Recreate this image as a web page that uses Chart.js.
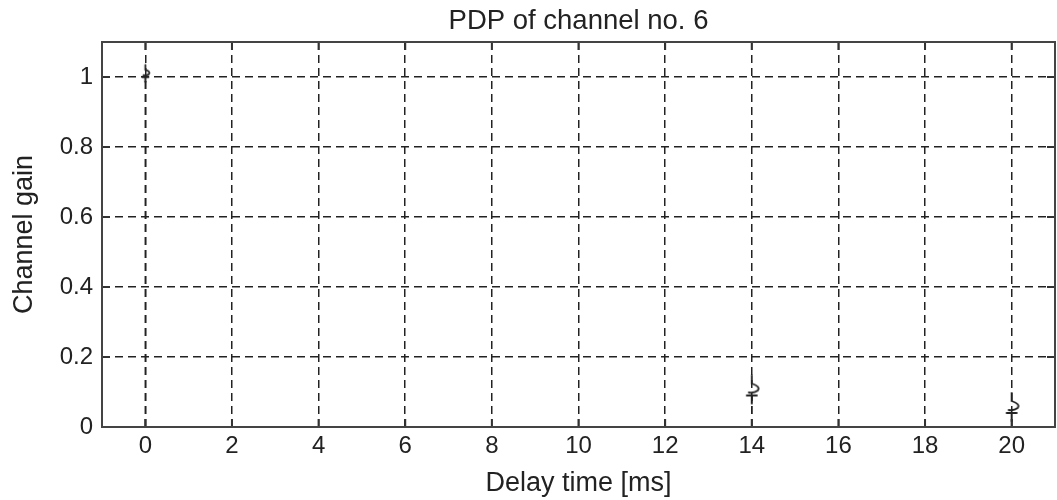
<!DOCTYPE html>
<html>
<head>
<meta charset="utf-8">
<script src="https://cdn.jsdelivr.net/npm/chart.js@4"></script>
<style>
  html, body { margin: 0; padding: 0; background: #fff; }
  #wrap { width: 1057px; height: 500px; }
</style>
</head>
<body>
<div id="wrap"><canvas id="pdp"></canvas></div>
<script>
// PDP taps: delay [ms] and channel gain
const delays = [0, 14, 20];
const gains = [1, 0.09, 0.04];
const markScale = [0.6, 1, 1];

const xTicks = [0, 2, 4, 6, 8, 10, 12, 14, 16, 18, 20];
const yTicks = [0, 0.2, 0.4, 0.6, 0.8, 1];

const FONT = 'Liberation Sans, Arial, Helvetica, sans-serif';
const INK = '#222';

// hand-drawn looking stem marker: squiggle sitting on a short T-bar
function makeMark(s) {
  const w = Math.round(22 * s), h = Math.round(48 * s);
  const c = document.createElement('canvas');
  c.width = w; c.height = h;
  const g = c.getContext('2d');
  const cx = w / 2, cy = h / 2;
  g.strokeStyle = INK;
  g.lineWidth = 1.8;
  g.lineCap = 'round';
  g.beginPath();
  g.moveTo(cx, cy - 20 * s);
  g.lineTo(cx, cy - 12 * s);
  g.quadraticCurveTo(cx + 9 * s, cy - 9 * s, cx + 6 * s, cy - 5 * s);
  g.quadraticCurveTo(cx + 2 * s, cy - 2 * s, cx - 3 * s, cy - 3 * s);
  g.stroke();
  g.lineWidth = 2;
  g.beginPath();
  g.moveTo(cx - 5 * s, cy);
  g.lineTo(cx + 5 * s, cy);
  g.moveTo(cx, cy);
  g.lineTo(cx, cy + 8 * s);
  g.stroke();
  return c;
}

// box around the plot with short inward ticks on all four sides
const frame = {
  id: 'frame',
  afterDraw(chart) {
    const { ctx, chartArea: a, scales } = chart;
    const len = 8;
    ctx.save();
    ctx.strokeStyle = '#333';
    ctx.lineWidth = 2;
    ctx.beginPath();
    xTicks.forEach(v => {
      const px = scales.x.getPixelForValue(v);
      ctx.moveTo(px, a.bottom); ctx.lineTo(px, a.bottom - len);
      ctx.moveTo(px, a.top); ctx.lineTo(px, a.top + len);
    });
    yTicks.forEach(v => {
      const py = scales.y.getPixelForValue(v);
      ctx.moveTo(a.left, py); ctx.lineTo(a.left + len, py);
      ctx.moveTo(a.right, py); ctx.lineTo(a.right - len, py);
    });
    ctx.stroke();
    ctx.strokeStyle = '#444';
    ctx.strokeRect(a.left, a.top, a.right - a.left, a.bottom - a.top);
    ctx.restore();
  }
};

const stems = delays.map((d, i) => ({
  type: 'line',
  data: [{ x: d, y: 0 }, { x: d, y: gains[i] }],
  borderColor: INK,
  borderWidth: 1.5,
  borderDash: [8, 5],
  pointRadius: 0
}));

new Chart(document.getElementById('pdp'), {
  type: 'scatter',
  data: {
    datasets: [
      ...stems,
      {
        data: delays.map((d, i) => ({ x: d, y: gains[i] })),
        pointStyle: markScale.map(makeMark),
        pointRadius: 10
      }
    ]
  },
  options: {
    responsive: true,
    maintainAspectRatio: false,
    animation: false,
    layout: { autoPadding: false, padding: { left: 0, right: 2, top: 0, bottom: 0 } },
    plugins: {
      legend: { display: false },
      tooltip: { enabled: false },
      title: {
        display: true,
        fullSize: false,
        text: 'PDP of channel no. 6',
        color: INK,
        font: { family: FONT, size: 27.5, weight: 'normal' },
        padding: { top: 5, bottom: 4 }
      }
    },
    scales: {
      x: {
        type: 'linear',
        min: -1,
        max: 21,
        afterBuildTicks: s => { s.ticks = xTicks.map(v => ({ value: v })); },
        afterFit: s => { s.height = 73; s.paddingLeft = 0; s.paddingRight = 0; },
        ticks: { color: INK, font: { family: FONT, size: 24 }, padding: 5, callback: v => String(v) },
        grid: { color: INK, lineWidth: 1.5, drawTicks: false },
        border: { display: false, dash: [8, 5] },
        title: {
          display: true,
          text: 'Delay time [ms]',
          color: INK,
          font: { family: FONT, size: 27 },
          padding: { top: 4, bottom: 0 }
        }
      },
      y: {
        min: 0,
        max: 1.1,
        afterBuildTicks: s => { s.ticks = yTicks.map(v => ({ value: v })); },
        afterFit: s => { s.width = 102; },
        ticks: { color: INK, font: { family: FONT, size: 24 }, padding: 9, callback: v => String(v) },
        grid: { color: INK, lineWidth: 1.5, drawTicks: false },
        border: { display: false, dash: [8, 5] },
        title: {
          display: true,
          text: 'Channel gain',
          color: INK,
          font: { family: FONT, size: 27 },
          padding: { top: 8, bottom: 0 }
        }
      }
    }
  },
  plugins: [frame]
});
</script>
</body>
</html>
